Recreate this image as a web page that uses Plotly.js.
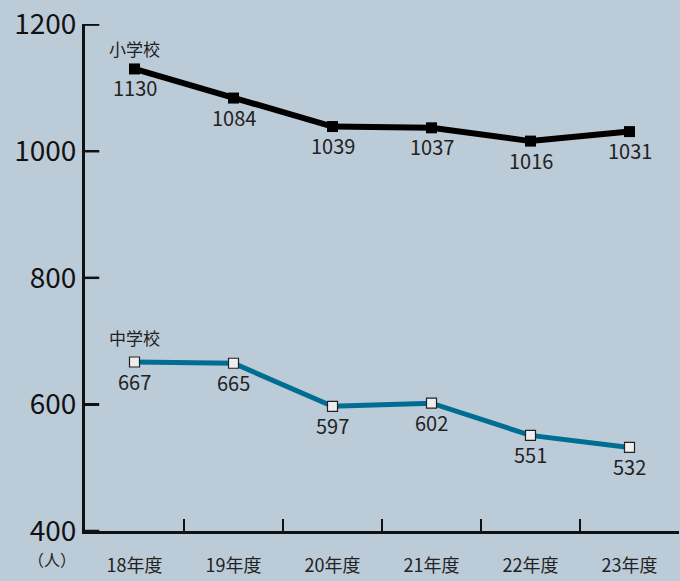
<!DOCTYPE html>
<html><head><meta charset="utf-8">
<script src="https://cdn.plot.ly/plotly-3.0.1.min.js"></script>
<style>html,body{margin:0;padding:0;background:#bccbd8;}</style>
</head><body>
<div id="chart" style="width:680px;height:581px;"></div>
<script>
const categories = ['18年度','19年度','20年度','21年度','22年度','23年度'];
const elementary = [1130, 1084, 1039, 1037, 1016, 1031];
const juniorHigh = [667, 665, 597, 602, 551, 532];
const yTicks = [400, 600, 800, 1000, 1200];
const seriesNames = ['小学校', '中学校'];
const unitLabel = '（人）';

const FONT = '"Liberation Sans Narrow", "Noto Sans CJK JP", sans-serif';
const BG = '#bccbd8';

const traces = [
  {
    x: categories, y: elementary, type: 'scatter', mode: 'lines+markers',
    name: seriesNames[0],
    line: {color: '#000000', width: 6},
    marker: {symbol: 'square', size: 11, color: '#000000'},
    cliponaxis: false, hoverinfo: 'none'
  },
  {
    x: categories, y: juniorHigh, type: 'scatter', mode: 'lines+markers',
    name: seriesNames[1],
    line: {color: '#006e92', width: 5},
    marker: {symbol: 'square', size: 10, color: '#eeeeee', line: {color: '#222222', width: 1.2}},
    cliponaxis: false, hoverinfo: 'none'
  }
];

const valueLabels = [];
[elementary, juniorHigh].forEach(series => {
  series.forEach((v, i) => {
    valueLabels.push({
      x: categories[i], y: v, xref: 'x', yref: 'y', text: String(v),
      showarrow: false, yshift: -19, xanchor: 'center', yanchor: 'middle',
      font: {family: FONT, size: 20, color: '#222222'}
    });
  });
});

// inside tick marks on the y axis, one per tick value
const yTickShapes = yTicks.map(v => ({
  type: 'line', xref: 'x domain', yref: 'y',
  x0: 0, x1: 0.024, y0: v, y1: v,
  line: {color: '#111111', width: 2.5}, layer: 'above'
}));

const layout = {
  width: 680, height: 581,
  paper_bgcolor: BG, plot_bgcolor: BG,
  showlegend: false,
  margin: {l: 85, r: 1, t: 24, b: 50},
  font: {family: FONT, color: '#222222'},
  xaxis: {
    type: 'category', range: [-0.5, 5.5],
    showgrid: false, zeroline: false,
    showline: true, linecolor: '#111111', linewidth: 3,
    ticks: 'inside', tickson: 'boundaries', ticklen: 12, tickwidth: 2.5, tickcolor: '#111111',
    tickfont: {family: FONT, size: 18, color: '#222222'},
    ticklabelstandoff: 16
  },
  yaxis: {
    range: [400, 1201], tickvals: yTicks, ticktext: yTicks.map(String),
    showgrid: false, zeroline: false,
    showline: true, linecolor: '#111111', linewidth: 3,
    ticks: 'inside', ticklen: 14, tickwidth: 2.5, tickcolor: '#111111',
    tickfont: {family: FONT, size: 28, color: '#111111'},
    ticklabelstandoff: 0
  },
  shapes: yTickShapes,
  annotations: [
    {x: 0, y: 1162, xref: 'x', yref: 'y', text: seriesNames[0], showarrow: false,
     font: {family: FONT, size: 17, color: '#222222'}},
    {x: 0, y: 706, xref: 'x', yref: 'y', text: seriesNames[1], showarrow: false,
     font: {family: FONT, size: 17, color: '#222222'}},
    {x: -0.056, y: -0.055, xref: 'paper', yref: 'paper', text: unitLabel, showarrow: false,
     xanchor: 'center', yanchor: 'middle',
     font: {family: FONT, size: 16, color: '#222222'}}
  ].concat(valueLabels)
};

Plotly.newPlot('chart', traces, layout, {displayModeBar: false, staticPlot: true});
</script>
</body></html>
